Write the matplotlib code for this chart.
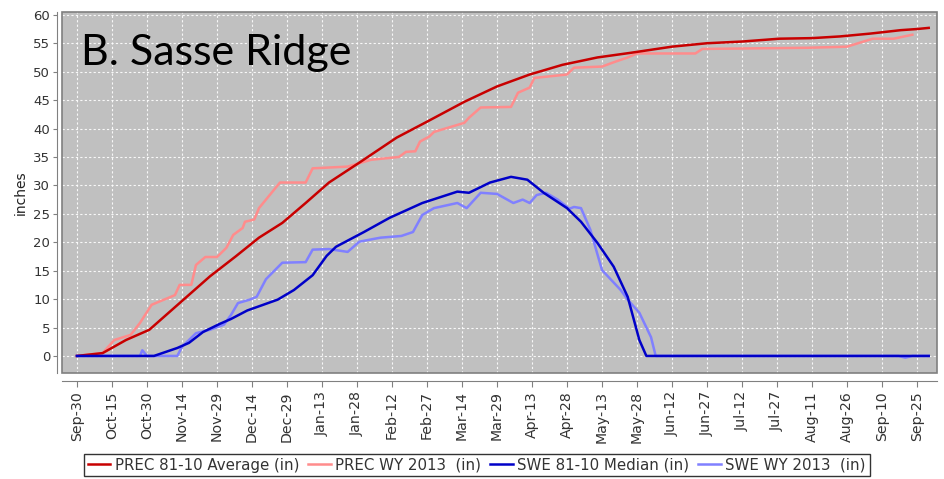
import matplotlib
matplotlib.use("Agg")
import matplotlib.pyplot as plt
from matplotlib.patches import Rectangle

# Days since Sep-30 and values (inches)
prec_avg_days = [0, 11, 21, 31, 44, 57, 68, 78, 88, 98, 108, 121, 137, 150, 166,
                 180, 194, 208, 223, 237, 255, 270, 285, 301, 315, 327, 340, 353,
                 360, 365]
prec_avg = [0, 0.5, 2.8, 4.6, 9.3, 14, 17.5, 20.8, 23.4, 26.9, 30.5, 34, 38.4,
            41.2, 44.7, 47.4, 49.5, 51.2, 52.5, 53.3, 54.4, 55.0, 55.3, 55.8,
            55.9, 56.2, 56.7, 57.3, 57.5, 57.7]

prec_wy_days = [0, 11, 16, 23, 27, 32, 42, 44, 49, 51, 55, 60, 64, 67, 71, 72, 76,
                78, 82, 87, 98, 101, 116, 126, 138, 141, 145, 147, 151, 153, 166,
                168, 173, 186, 189, 194, 196, 210, 213, 225, 231, 236, 240, 265,
                268, 313, 330, 341, 350, 358]
prec_wy = [0, 0.5, 2.8, 3.7, 5.8, 9, 10.7, 12.5, 12.5, 16, 17.4, 17.4, 19, 21.3,
           22.5, 23.6, 24, 26, 28, 30.5, 30.5, 33, 33.3, 34.5, 35, 35.9, 36, 37.7,
           38.6, 39.4, 41, 41.9, 43.7, 43.8, 46.3, 47.2, 48.9, 49.5, 50.7, 50.9,
           51.8, 52.5, 53.2, 53.2, 54.0, 54.2, 54.4, 55.8, 55.8, 56.5]

swe_med_days = [0, 33, 43, 48, 54, 61, 66, 73, 86, 93, 101, 107, 111, 123, 134,
                148, 163, 168, 177, 186, 193, 200, 210, 216, 223, 230, 236, 241,
                244, 365]
swe_med = [0, 0, 1.4, 2.3, 4.2, 5.6, 6.5, 8.0, 9.9, 11.6, 14.2, 17.6, 19.2, 21.8,
           24.3, 26.9, 28.9, 28.7, 30.5, 31.5, 31.0, 28.7, 26, 23.6, 19.9, 15.7,
           10.4, 2.8, 0, 0]

swe_wy_days = [0, 27, 28, 30, 43, 45, 51, 57, 63, 66, 69, 74, 77, 81, 88, 98, 101,
               108, 116, 121, 130, 139, 144, 148, 153, 163, 167, 173, 180, 187,
               191, 194, 197, 201, 206, 211, 213, 216, 220, 225, 233, 236, 241,
               246, 248, 352, 355, 358, 365]
swe_wy = [0, 0, 1.0, 0, 0, 1.6, 4.0, 4.6, 5.5, 7.2, 9.3, 9.9, 10.4, 13.5, 16.4,
          16.5, 18.7, 18.8, 18.3, 20.1, 20.8, 21.1, 21.8, 24.8, 26, 26.9, 26, 28.7,
          28.5, 26.9, 27.5, 26.9, 28.3, 28.7, 27.5, 25.9, 26.2, 26, 22.2, 15.1,
          11.6, 9.9, 7.6, 3.3, 0, 0, -0.3, 0, 0]

tick_days = list(range(0, 361, 15))
tick_labels = ["Sep-30", "Oct-15", "Oct-30", "Nov-14", "Nov-29", "Dec-14",
               "Dec-29", "Jan-13", "Jan-28", "Feb-12", "Feb-27", "Mar-14",
               "Mar-29", "Apr-13", "Apr-28", "May-13", "May-28", "Jun-12",
               "Jun-27", "Jul-12", "Jul-27", "Aug-11", "Aug-26", "Sep-10",
               "Sep-25"]


def main():
  fig = plt.figure(figsize=(9.44, 4.79), dpi=100)
  ax = fig.add_axes([0.0657, 0.2213, 0.927, 0.7537])
  ax.set_facecolor("#c0c0c0")

  ax.plot(prec_avg_days, prec_avg, color="#c80000", lw=1.8,
          label="PREC 81-10 Average (in)", zorder=4)
  ax.plot(prec_wy_days, prec_wy, color="#ff8c8c", lw=1.8,
          label="PREC WY 2013  (in)", zorder=3)
  ax.plot(swe_med_days, swe_med, color="#0000c8", lw=1.8,
          label="SWE 81-10 Median (in)", zorder=4)
  ax.plot(swe_wy_days, swe_wy, color="#8080ff", lw=1.8,
          label="SWE WY 2013  (in)", zorder=3)

  # axis lines offset from the plot box (set first: this resets the ticks)
  for side in ["top", "right"]:
    ax.spines[side].set_visible(False)
  ax.spines["left"].set_position(("outward", 3.5))
  ax.spines["bottom"].set_position(("outward", 6))
  ax.spines["left"].set_color("#808080")
  ax.spines["bottom"].set_color("#808080")
  ax.add_patch(Rectangle((0, 0), 1, 1, transform=ax.transAxes, fill=False,
                         edgecolor="#808080", lw=1.2, clip_on=False, zorder=5))

  ax.set_xlim(-6.4, 368.6)
  ax.set_ylim(-3, 60.5)
  ax.set_xticks(tick_days)
  ax.set_xticklabels(tick_labels)
  ax.set_yticks(range(0, 61, 5))
  ax.tick_params(axis="y", labelsize=9.5, labelcolor="#333333", length=3,
                 color="#808080", pad=2)
  ax.tick_params(axis="x", labelsize=10.2, labelcolor="#333333", length=4,
                 color="#808080", pad=3, labelrotation=90)
  ax.set_ylabel("inches", fontsize=10, color="#222222", labelpad=4)

  ax.grid(True, color="white", linestyle=(0, (2, 2)), lw=0.8, alpha=0.9)
  ax.set_axisbelow(True)

  ax.text(0.022, 0.885, "B. Sasse Ridge", transform=ax.transAxes,
          fontsize=31, family="Lato", va="center", ha="left", color="black")

  leg = fig.legend(loc="center", bbox_to_anchor=(0.505, 0.029), ncol=4,
                   fontsize=10.8, frameon=True, fancybox=False, handlelength=1.5,
                   handletextpad=0.3, columnspacing=0.6, borderpad=0.25,
                   borderaxespad=0)
  leg.get_frame().set_edgecolor("black")
  leg.get_frame().set_linewidth(1.0)
  for t in leg.get_texts():
    t.set_color("#333333")

  fig.savefig("out.png", dpi=100)


if __name__ == "__main__":
  main()
